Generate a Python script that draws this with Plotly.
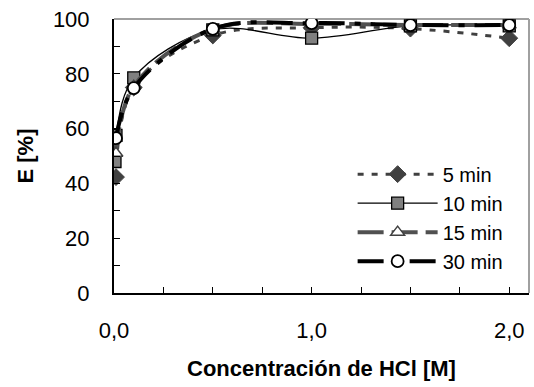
import plotly.graph_objects as go

conc_5 = [0.01, 0.1, 0.5, 1.0, 1.5, 2.0]
e_5 = [42.3, 75.0, 94.0, 96.8, 96.5, 93.0]
conc_10 = [0.005, 0.01, 0.1, 0.5, 1.0, 1.5, 2.0]
e_10 = [48.0, 57.5, 78.5, 96.0, 93.0, 97.5, 97.5]
conc_15 = [0.01, 0.1, 0.5, 1.0, 1.5, 2.0]
e_15 = [51.0, 75.5, 96.4, 98.2, 97.8, 97.8]
conc_30 = [0.01, 0.1, 0.5, 1.0, 1.5, 2.0]
e_30 = [56.5, 74.8, 96.4, 98.5, 97.8, 97.8]

names = ["5 min", "10 min", "15 min", "30 min"]

FONT = "Liberation Sans, Arial, sans-serif"

fig = go.Figure()
fig.add_trace(go.Scatter(
    x=conc_5, y=e_5, name=names[0], mode="lines+markers", line_shape="spline",
    line=dict(color="#404040", width=3, dash="6px,8px"),
    marker=dict(symbol="diamond", size=13, color="#404040", line=dict(color="#404040", width=1))))
fig.add_trace(go.Scatter(
    x=conc_10, y=e_10, name=names[1], mode="lines+markers", line_shape="spline",
    line=dict(color="#000000", width=1.3),
    marker=dict(symbol="square", size=12, color="#808080", line=dict(color="#000000", width=1.3))))
fig.add_trace(go.Scatter(
    x=conc_15, y=e_15, name=names[2], mode="lines+markers", line_shape="spline",
    line=dict(color="#505050", width=4, dash="26px,8px"),
    marker=dict(symbol="triangle-up", size=12, color="#ffffff", line=dict(color="#404040", width=1.5))))
fig.add_trace(go.Scatter(
    x=conc_30, y=e_30, name=names[3], mode="lines+markers", line_shape="spline",
    line=dict(color="#000000", width=4, dash="26px,10px,6px,10px"),
    marker=dict(symbol="circle", size=12, color="#ffffff", line=dict(color="#000000", width=1.8))))

fig.update_layout(
    width=534, height=387,
    margin=dict(l=114, r=5, t=19, b=94),
    paper_bgcolor="white", plot_bgcolor="white",
    separators=",.",
    font=dict(family=FONT, size=21, color="black"),
    showlegend=True,
    legend=dict(x=0.575, y=0.505, xanchor="left", yanchor="top",
                bgcolor="rgba(0,0,0,0)", font=dict(size=20),
                itemwidth=80, tracegroupgap=0),
    xaxis=dict(range=[0, 2.1], tickvals=[0, 1, 2], tickformat=".1f",
               ticks="inside", ticklen=6, tickcolor="black", tickwidth=1,
               tickfont=dict(size=22),
               minor=dict(dtick=0.25, tick0=0, ticks="inside", ticklen=6, tickcolor="black"),
               showline=True, linecolor="black", linewidth=2, showgrid=False, zeroline=False,
               ticklabelstandoff=17,
               title=dict(text="<b>Concentración de HCl [M]</b>", font=dict(size=22), standoff=18)),
    yaxis=dict(range=[0, 100], dtick=20, ticks="inside", ticklen=6, tickcolor="black", tickwidth=1,
               tickfont=dict(size=22),
               minor=dict(dtick=10, ticks="inside", ticklen=6, tickcolor="black"),
               showline=True, linecolor="black", linewidth=2, showgrid=False, zeroline=False,
               ticklabelstandoff=18,
               title=dict(text="<b>E [%]</b>", font=dict(size=22), standoff=13)),
    shapes=[
        dict(type="line", xref="paper", yref="paper", x0=0, x1=1, y0=1, y1=1,
             line=dict(color="#a0a0a0", width=2), layer="below"),
        dict(type="line", xref="paper", yref="paper", x0=1, x1=1, y0=0, y1=1,
             line=dict(color="#a0a0a0", width=2), layer="below"),
    ],
)

fig.write_html("out.html")
